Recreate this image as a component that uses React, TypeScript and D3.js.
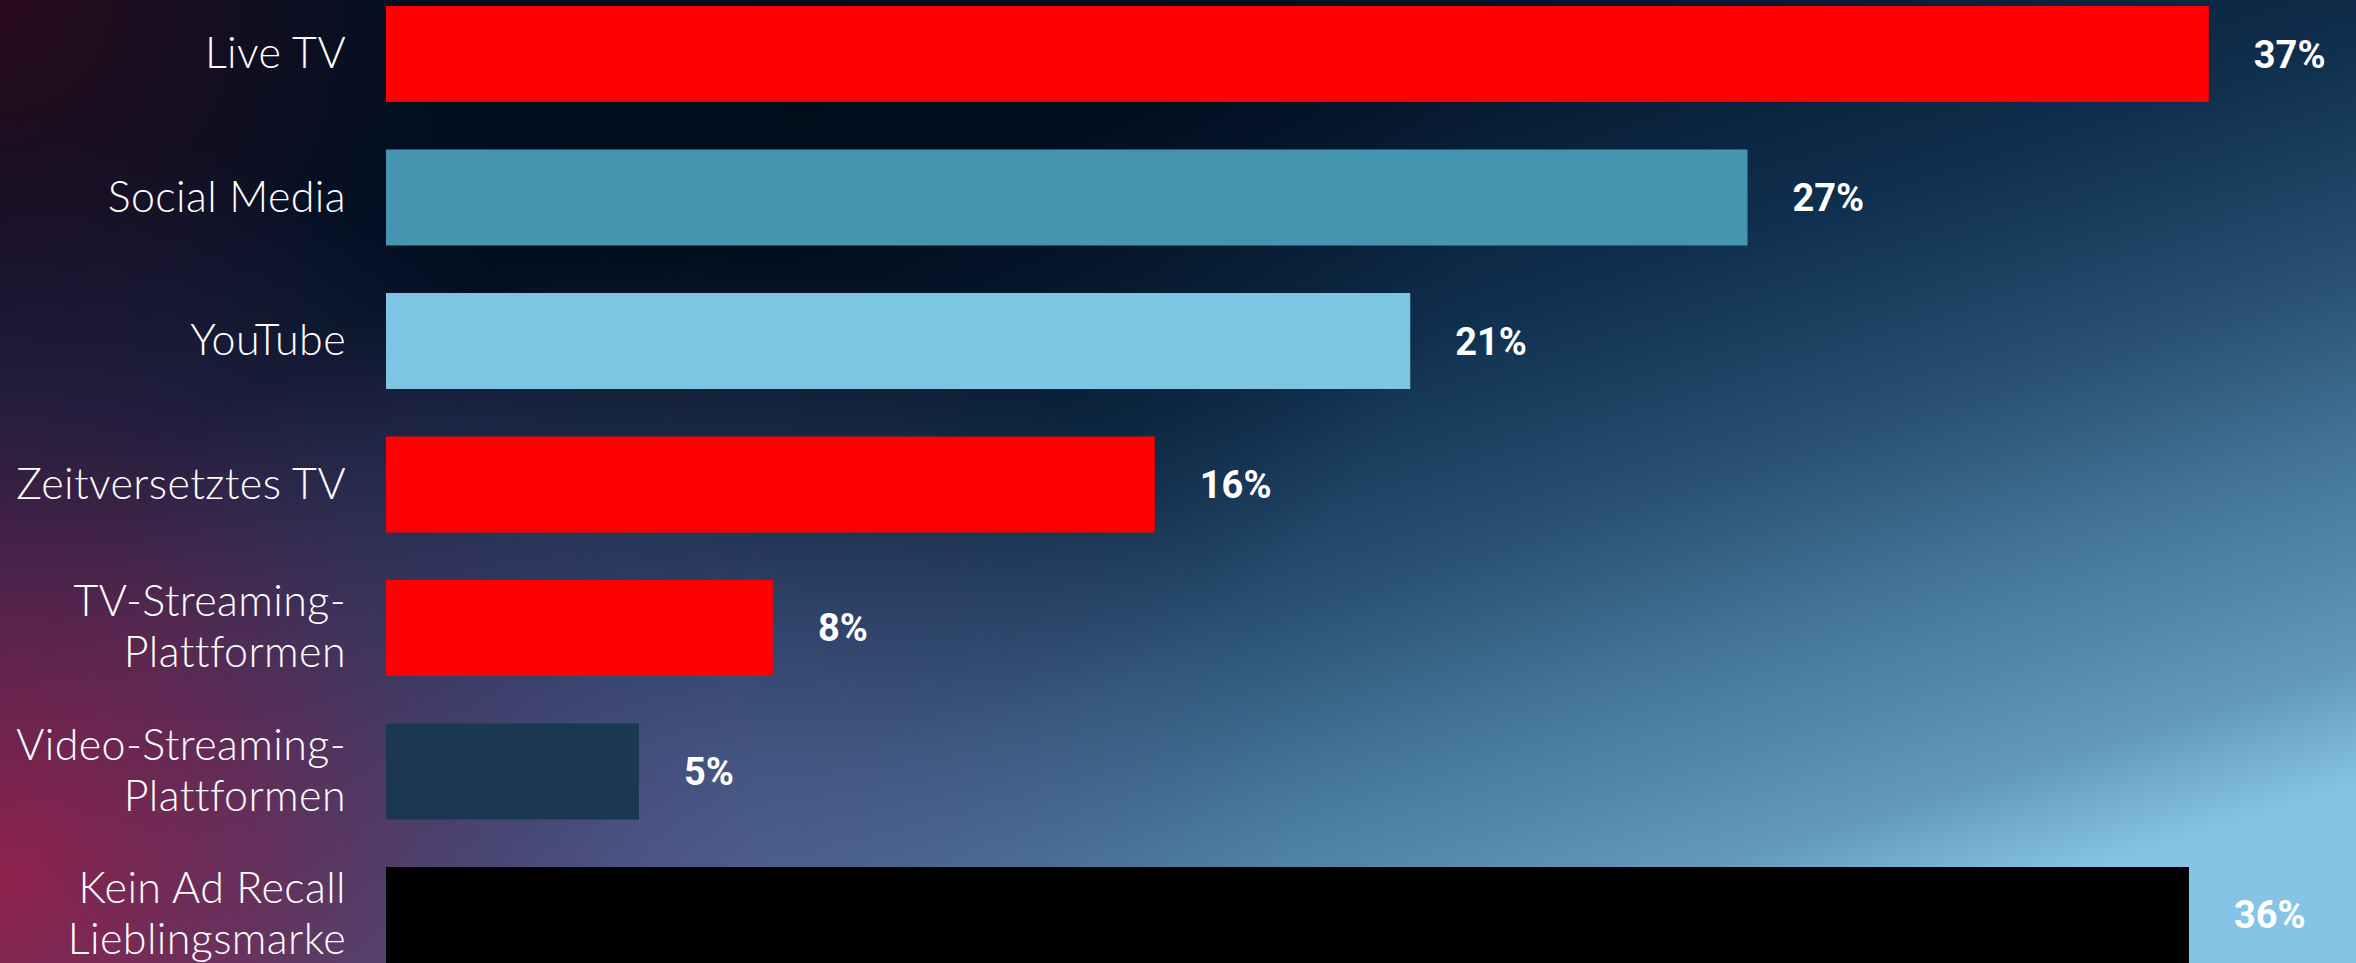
import React from "react";
import * as d3 from "d3";

const categories: string[][] = [
  ["Live TV"],
  ["Social Media"],
  ["YouTube"],
  ["Zeitversetztes TV"],
  ["TV-Streaming-", "Plattformen"],
  ["Video-Streaming-", "Plattformen"],
  ["Kein Ad Recall", "Lieblingsmarke"],
];
const values: number[] = [36.75, 27.45, 20.65, 15.5, 7.8, 5.1, 36.35];
const valueLabels: string[] = ["37%", "27%", "21%", "16%", "8%", "5%", "36%"];
const barColors: string[] = ["#ff0000", "#4595b0", "#7cc6e4", "#ff0000", "#ff0000", "#1b3852", "#000000"];

const W = 2356;
const H = 963;

export default function App() {
  const keys = categories.map((c) => c.join(" "));
  const y = d3.scaleBand<string>().domain(keys).range([6, 963]).paddingInner(0.331).paddingOuter(0);
  const x = d3.scaleLinear().domain([0, 40]).range([386, 386 + 49.6 * 40]);
  const bw = y.bandwidth();

  return (
    <svg width={W} height={H} style={{ position: "absolute", left: 0, top: 0, display: "block" }}>
      <defs>
        <linearGradient id="bgBase" gradientUnits="userSpaceOnUse" x1="1500" y1="0" x2="1800" y2="963">
          <stop offset="0" stopColor="#031226" />
          <stop offset="0.3" stopColor="#10304f" />
          <stop offset="0.5" stopColor="#284e70" />
          <stop offset="0.7" stopColor="#47799c" />
          <stop offset="0.88" stopColor="#6299bb" />
          <stop offset="1" stopColor="#86c4e6" />
        </linearGradient>
        <radialGradient id="magenta" gradientUnits="userSpaceOnUse" cx="0" cy="880" r="760">
          <stop offset="0" stopColor="#96204c" stopOpacity="0.95" />
          <stop offset="0.35" stopColor="#7a2452" stopOpacity="0.7" />
          <stop offset="0.7" stopColor="#4a3060" stopOpacity="0.35" />
          <stop offset="1" stopColor="#3a3a70" stopOpacity="0" />
        </radialGradient>
        <radialGradient id="purple" gradientUnits="userSpaceOnUse" cx="650" cy="900" r="650">
          <stop offset="0" stopColor="#5a5a8e" stopOpacity="0.75" />
          <stop offset="1" stopColor="#5a5a8e" stopOpacity="0" />
        </radialGradient>
        <radialGradient id="corner" gradientUnits="userSpaceOnUse" cx="0" cy="0" r="420">
          <stop offset="0" stopColor="#2c0a1c" stopOpacity="0.9" />
          <stop offset="1" stopColor="#2c0a1c" stopOpacity="0" />
        </radialGradient>
        <radialGradient id="darktop" gradientUnits="userSpaceOnUse" cx="800" cy="60" r="700">
          <stop offset="0" stopColor="#010a18" stopOpacity="0.8" />
          <stop offset="1" stopColor="#010a18" stopOpacity="0" />
        </radialGradient>
      </defs>
      <rect x={0} y={0} width={W} height={H} fill="url(#bgBase)" />
      <rect x={0} y={0} width={W} height={H} fill="url(#darktop)" />
      <rect x={0} y={0} width={W} height={H} fill="url(#purple)" />
      <rect x={0} y={0} width={W} height={H} fill="url(#magenta)" />
      <rect x={0} y={0} width={W} height={H} fill="url(#corner)" />

      {keys.map((k, i) => {
        const y0 = y(k) as number;
        const cy = y0 + bw / 2;
        const lines = categories[i];
        const firstBase = lines.length === 1 ? cy + 14 : cy - 11.5;
        return (
          <g key={k}>
            <rect x={x(0)} y={y0} width={x(values[i]) - x(0)} height={bw} fill={barColors[i]} />
            <text
              x={346}
              textAnchor="end"
              fill="#ffffff"
              style={{ fontFamily: "Lato", fontWeight: 300, fontSize: 43, letterSpacing: "0.4px" }}
            >
              {lines.map((ln, j) => (
                <tspan key={j} x={346} y={firstBase + j * 51}>
                  {ln}
                </tspan>
              ))}
            </text>
            <text
              x={x(values[i]) + 45}
              y={cy + 13.5}
              fill="#ffffff"
              style={{ fontFamily: "Roboto", fontWeight: 700, fontSize: 38 }}
            >
              {valueLabels[i]}
            </text>
          </g>
        );
      })}
    </svg>
  );
}
